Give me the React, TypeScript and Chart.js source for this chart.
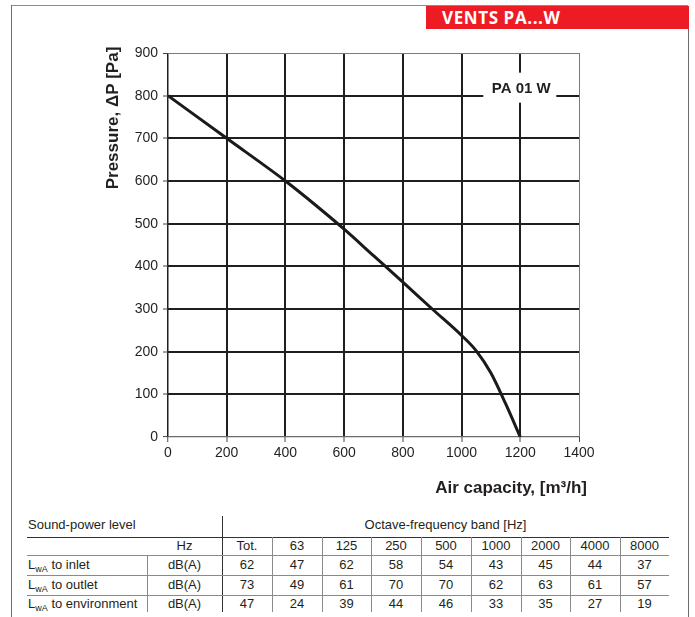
import React, { useEffect, useRef } from "react";
import { Chart, registerables } from "chart.js";

Chart.register(...registerables);

// ---- chart data ----
const airflow = [0, 200, 400, 500, 600, 700, 800, 900, 1000, 1050, 1100, 1150, 1200];
const pressure = [800, 700, 600, 545, 487, 425, 363, 300, 238, 202, 150, 78, 0];
const xMin = 0;
const xMax = 1400;
const xStep = 200;
const yMin = 0;
const yMax = 900;
const yStep = 100;
const modelLabel = "PA 01 W";
const headerTitle = "VENTS PA...W";
const yTitle = "Pressure, \u0394P [Pa]";
const xTitle = "Air capacity, [m\u00b3/h]";

// ---- table data ----
const bands = ["Tot.", "63", "125", "250", "500", "1000", "2000", "4000", "8000"];
const rowNames = ["to inlet", "to outlet", "to environment"];
const inletLevels = [62, 47, 62, 58, 54, 43, 45, 44, 37];
const outletLevels = [73, 49, 61, 70, 70, 62, 63, 61, 57];
const environmentLevels = [47, 24, 39, 44, 46, 33, 35, 27, 19];
const rowValues = [inletLevels, outletLevels, environmentLevels];

const FONT = "'Liberation Sans', Arial, Helvetica, sans-serif";
const INK = "#231f20";

const overlayPlugin = {
  id: "overlayText",
  afterDraw(chart: any) {
    const ctx = chart.ctx;
    const xs = chart.scales.x;
    const ys = chart.scales.y;
    ctx.save();
    const cx = xs.getPixelForValue(1200);
    const cy = ys.getPixelForValue(800) - 8;
    ctx.fillStyle = "#ffffff";
    ctx.fillRect(cx - 37, cy - 15, 73, 30);
    ctx.fillStyle = INK;
    ctx.font = "bold 15px " + FONT;
    ctx.textAlign = "center";
    ctx.textBaseline = "middle";
    ctx.fillText(modelLabel, cx + 1, cy + 1);
    ctx.font = "bold 17px " + FONT;
    ctx.textAlign = "right";
    ctx.fillText(xTitle, chart.chartArea.right + 8, chart.chartArea.bottom + 51);
    ctx.translate(113, 118);
    ctx.rotate(-Math.PI / 2);
    ctx.textAlign = "center";
    ctx.fillText(yTitle, 0, 0);
    ctx.restore();
  },
};

function gridColor(max: number) {
  return (c: any) => {
    const v = c.tick ? c.tick.value : null;
    if (v === max) return "#7a7a7a";
    return "#1f1f1f";
  };
}
function gridWidth(max: number, zeroWidth: number) {
  return (c: any) => {
    const v = c.tick ? c.tick.value : null;
    if (v === max) return 1;
    if (v === 0) return zeroWidth;
    return 2;
  };
}

function PressureChart() {
  const ref = useRef<HTMLCanvasElement | null>(null);
  useEffect(() => {
    if (!ref.current) return;
    const chart = new Chart(ref.current, {
      type: "line",
      data: {
        datasets: [
          {
            data: airflow.map((x, i) => ({ x, y: pressure[i] })),
            borderColor: "#1a1a1a",
            borderWidth: 3,
            pointRadius: 0,
            cubicInterpolationMode: "monotone",
            fill: false,
          },
        ],
      },
      options: {
        animation: false,
        responsive: false,
        plugins: { legend: { display: false }, tooltip: { enabled: false } },
        layout: { padding: { left: 0, right: 116, top: 53, bottom: 0 } },
        scales: {
          x: {
            type: "linear",
            min: xMin,
            max: xMax,
            afterFit: (s: any) => {
              s.height = 63;
            },
            ticks: {
              stepSize: xStep,
              color: INK,
              font: { family: FONT, size: 14 },
              padding: 3,
              maxRotation: 0,
              callback: (v: any) => String(v),
            },
            grid: {
              color: gridColor(xMax),
              lineWidth: gridWidth(xMax, 1.5),
              tickLength: 5,
              tickColor: "#444",
              tickWidth: 1,
            },
            border: { display: false },
          },
          y: {
            min: yMin,
            max: yMax,
            afterFit: (s: any) => {
              s.width = 168;
            },
            ticks: {
              stepSize: yStep,
              color: INK,
              font: { family: FONT, size: 14 },
              padding: 5,
              callback: (v: any) => String(v),
            },
            grid: {
              color: (c: any) => (c.tick && c.tick.value === 0 ? "#6a6a6a" : gridColor(yMax)(c)),
              lineWidth: gridWidth(yMax, 1.2),
              tickLength: 5,
              tickColor: "#444",
              tickWidth: 1,
            },
            border: { display: false },
          },
        },
      },
      plugins: [overlayPlugin],
    } as any);
    return () => chart.destroy();
  }, []);
  return (
    <canvas
      ref={ref}
      width={695}
      height={500}
      style={{ position: "absolute", left: 0, top: 0, width: 695, height: 500 }}
    />
  );
}

const colEdges = [222, 272, 322, 371, 421, 471, 521, 570, 620, 669];
const rowCenters = [565, 585, 604];

function Line(props: { x: number; y: number; w: number; h: number; c: string }) {
  return (
    <div
      style={{
        position: "absolute",
        left: props.x,
        top: props.y,
        width: props.w,
        height: props.h,
        background: props.c,
      }}
    />
  );
}

function Cell(props: { x: number; w: number; cy: number; align?: string; children: any }) {
  return (
    <div
      style={{
        position: "absolute",
        left: props.x,
        width: props.w,
        top: props.cy - 8,
        height: 16,
        lineHeight: "16px",
        textAlign: (props.align || "center") as any,
        whiteSpace: "nowrap",
      }}
    >
      {props.children}
    </div>
  );
}

function SoundTable() {
  const gray = "#8a8a8a";
  return (
    <div style={{ position: "absolute", left: 0, top: 0, fontFamily: FONT, fontSize: 13, color: INK }}>
      <Cell x={28} w={190} cy={525} align="left">Sound-power level</Cell>
      <Cell x={222} w={447} cy={525}>Octave-frequency band [Hz]</Cell>
      <Line x={222} y={516} w={1} h={96} c="#333" />
      <Line x={27} y={537} w={642} h={1} c="#333" />
      <Line x={27} y={555} w={642} h={1} c={gray} />
      <Line x={27} y={575} w={642} h={1} c={gray} />
      <Line x={27} y={595} w={642} h={1} c={gray} />
      <Line x={147} y={555} w={1} h={57} c={gray} />
      {colEdges.slice(1, colEdges.length - 1).map((x) => (
        <Line key={"v" + x} x={x} y={537} w={1} h={75} c={gray} />
      ))}
      <Cell x={147} w={75} cy={546}>Hz</Cell>
      {bands.map((b, i) => (
        <Cell key={"b" + b} x={colEdges[i]} w={colEdges[i + 1] - colEdges[i]} cy={546}>
          {b}
        </Cell>
      ))}
      {rowNames.map((name, r) => (
        <React.Fragment key={name}>
          <Cell x={28} w={118} cy={rowCenters[r]} align="left">
            L<span style={{ fontSize: 9, verticalAlign: -3 }}>wA</span> {name}
          </Cell>
          <Cell x={147} w={75} cy={rowCenters[r]}>dB(A)</Cell>
          {rowValues[r].map((v, i) => (
            <Cell key={i} x={colEdges[i]} w={colEdges[i + 1] - colEdges[i]} cy={rowCenters[r]}>
              {v}
            </Cell>
          ))}
        </React.Fragment>
      ))}
    </div>
  );
}

export default function App() {
  return (
    <div style={{ position: "absolute", left: 0, top: 0, width: 695, height: 617, background: "#fff", overflow: "hidden" }}>
      <Line x={11} y={5} w={677} h={1} c="#8c8c8c" />
      <Line x={11} y={5} w={1} h={612} c="#6c6c6c" />
      <Line x={688} y={6} w={1} h={611} c="#6c6c6c" />
      <div
        style={{
          position: "absolute",
          left: 426,
          top: 6,
          width: 263,
          height: 23,
          background: "#ed1c24",
          color: "#fff",
          fontFamily: "'Open Sans', sans-serif",
          fontWeight: 700,
          fontSize: 17,
          lineHeight: "23px",
          paddingLeft: 16,
          boxSizing: "border-box",
          letterSpacing: 0.6,
        }}
      >
        {headerTitle}
      </div>
      <PressureChart />
      <SoundTable />
    </div>
  );
}
